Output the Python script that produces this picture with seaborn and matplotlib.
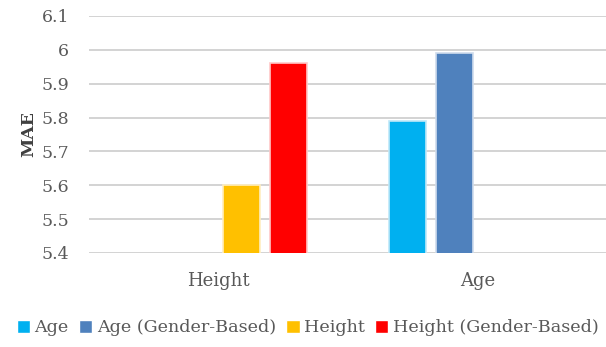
import matplotlib
matplotlib.use("Agg")
import matplotlib.pyplot as plt
import seaborn as sns
import pandas as pd
import numpy as np

# Mean absolute error per target and model variant
targets = ["Height", "Age"]
series = ["Age", "Age (Gender-Based)", "Height", "Height (Gender-Based)"]
height_vals = [np.nan, np.nan, 5.60, 5.96]
age_vals = [5.79, 5.99, np.nan, np.nan]
colors = ["#00b0f0", "#4f81bd", "#ffc000", "#ff0000"]
edges = ["#bfe8f8", "#cfdcec", "#ffeec0", "#ffc8c8"]
yticks = [5.4, 5.5, 5.6, 5.7, 5.8, 5.9, 6.0, 6.1]
ytick_labels = ["5.4", "5.5", "5.6", "5.7", "5.8", "5.9", "6", "6.1"]

df = pd.DataFrame({
    "target": [t for t in targets for _ in series],
    "series": series * len(targets),
    "mae": height_vals + age_vals,
})

sns.set_theme(style="white")
plt.rcParams["font.family"] = ["DejaVu Serif"]

fig = plt.figure(figsize=(6.06, 3.47), dpi=100)
ax = fig.add_axes([0.1465, 0.271, 0.856, 0.683])

sns.barplot(data=df, x="target", y="mae", hue="series", order=targets,
            hue_order=series, palette=colors, saturation=1, width=0.72,
            gap=0.2, errorbar=None, ax=ax, legend=True)

# Light outline around each bar
for cont, ec in zip(ax.containers, edges):
    for patch in cont.patches:
        patch.set_edgecolor(ec)
        patch.set_linewidth(1.2)

ax.set_ylim(5.4, 6.1)
ax.set_yticks(yticks)
ax.set_yticklabels(ytick_labels)
ax.yaxis.grid(True, color="#d0d0d0", linewidth=1.3)
ax.set_axisbelow(True)
for s in ax.spines.values():
    s.set_visible(False)
ax.tick_params(axis="y", length=0, labelsize=12.5, colors="#595959", pad=14)
ax.tick_params(axis="x", length=0, labelsize=13, colors="#595959", pad=14)
ax.set_xlabel("")
ax.set_ylabel("MAE", fontsize=12.5, fontweight="bold", color="#404040", labelpad=3)

# Move the series legend below the plot, in one row
handles, labels = ax.get_legend_handles_labels()
ax.get_legend().remove()
fig.legend(handles, labels, loc="center", bbox_to_anchor=(0.508, 0.055),
           ncol=4, frameon=False, fontsize=12.6, handlelength=0.75,
           handleheight=0.75, handletextpad=0.25, columnspacing=0.6,
           labelcolor="#595959", borderaxespad=0, borderpad=0)

fig.savefig("out.png", dpi=100)
